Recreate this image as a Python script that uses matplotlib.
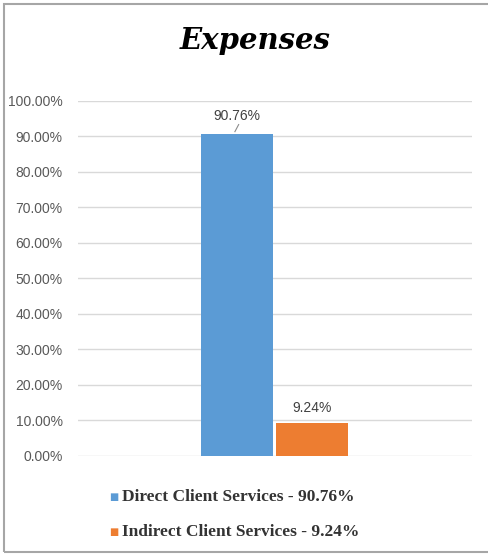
import matplotlib.pyplot as plt
from matplotlib.patches import Rectangle
from matplotlib.ticker import PercentFormatter

categories = ["Direct Client Services", "Indirect Client Services"]
values = [90.76, 9.24]
colors = ["#5b9bd5", "#ed7d31"]
yticks = [0, 10, 20, 30, 40, 50, 60, 70, 80, 90, 100]

fig = plt.figure(figsize=(4.89, 5.54), dpi=100)
fig.patches.append(Rectangle((0.009, 0.004), 1.05, 0.989, transform=fig.transFigure,
                             fill=False, edgecolor="#a6a6a6", linewidth=1.5))

ax = fig.add_axes([0.1595, 0.1769, 0.806, 0.6408])
positions = [0, 1]
bars = ax.bar(positions, values, width=0.96, color=colors, zorder=3)
ax.set_xlim(-2.12, 3.13)
ax.set_ylim(0, 100)
ax.set_yticks(yticks)
ax.yaxis.set_major_formatter(PercentFormatter(decimals=2))
ax.tick_params(axis="y", length=0, pad=11, labelsize=10, labelcolor="#595959")
for lbl in ax.get_yticklabels():
    lbl.set_family("Liberation Sans")
ax.set_xticks([])
ax.grid(axis="y", color="#d9d9d9", linewidth=1, zorder=0)
for s in ax.spines.values():
    s.set_visible(False)

# data labels (first one has a small leader line)
ax.text(positions[0], values[0] + 5.0, f"{values[0]:.2f}%", ha="center", va="center",
        fontsize=10, color="#404040", family="Liberation Sans")
ax.plot([positions[0] - 0.03, positions[0] + 0.02], [values[0] + 0.6, values[0] + 2.6],
        color="#8c8c8c", lw=0.8, zorder=4)
ax.text(positions[1], values[1] + 4.3, f"{values[1]:.2f}%", ha="center", va="center",
        fontsize=10, color="#404040", family="Liberation Sans")

fig.text(0.522, 0.926, "Expenses", ha="center", va="center", fontsize=21,
         family="DejaVu Serif", weight="bold", style="italic")

# legend
leg_y = [1 - 497 / 554, 1 - 532 / 554]
for cat, val, c, y in zip(categories, values, colors, leg_y):
    fig.text(0.232, y, "■", ha="center", va="center", fontsize=7, color=c)
    fig.text(0.249, y, f"{cat} - {val:.2f}%", ha="left", va="center", fontsize=12.5,
             family="Liberation Serif", weight="bold", color="#333333")

fig.savefig("out.png", dpi=100, facecolor="white")
